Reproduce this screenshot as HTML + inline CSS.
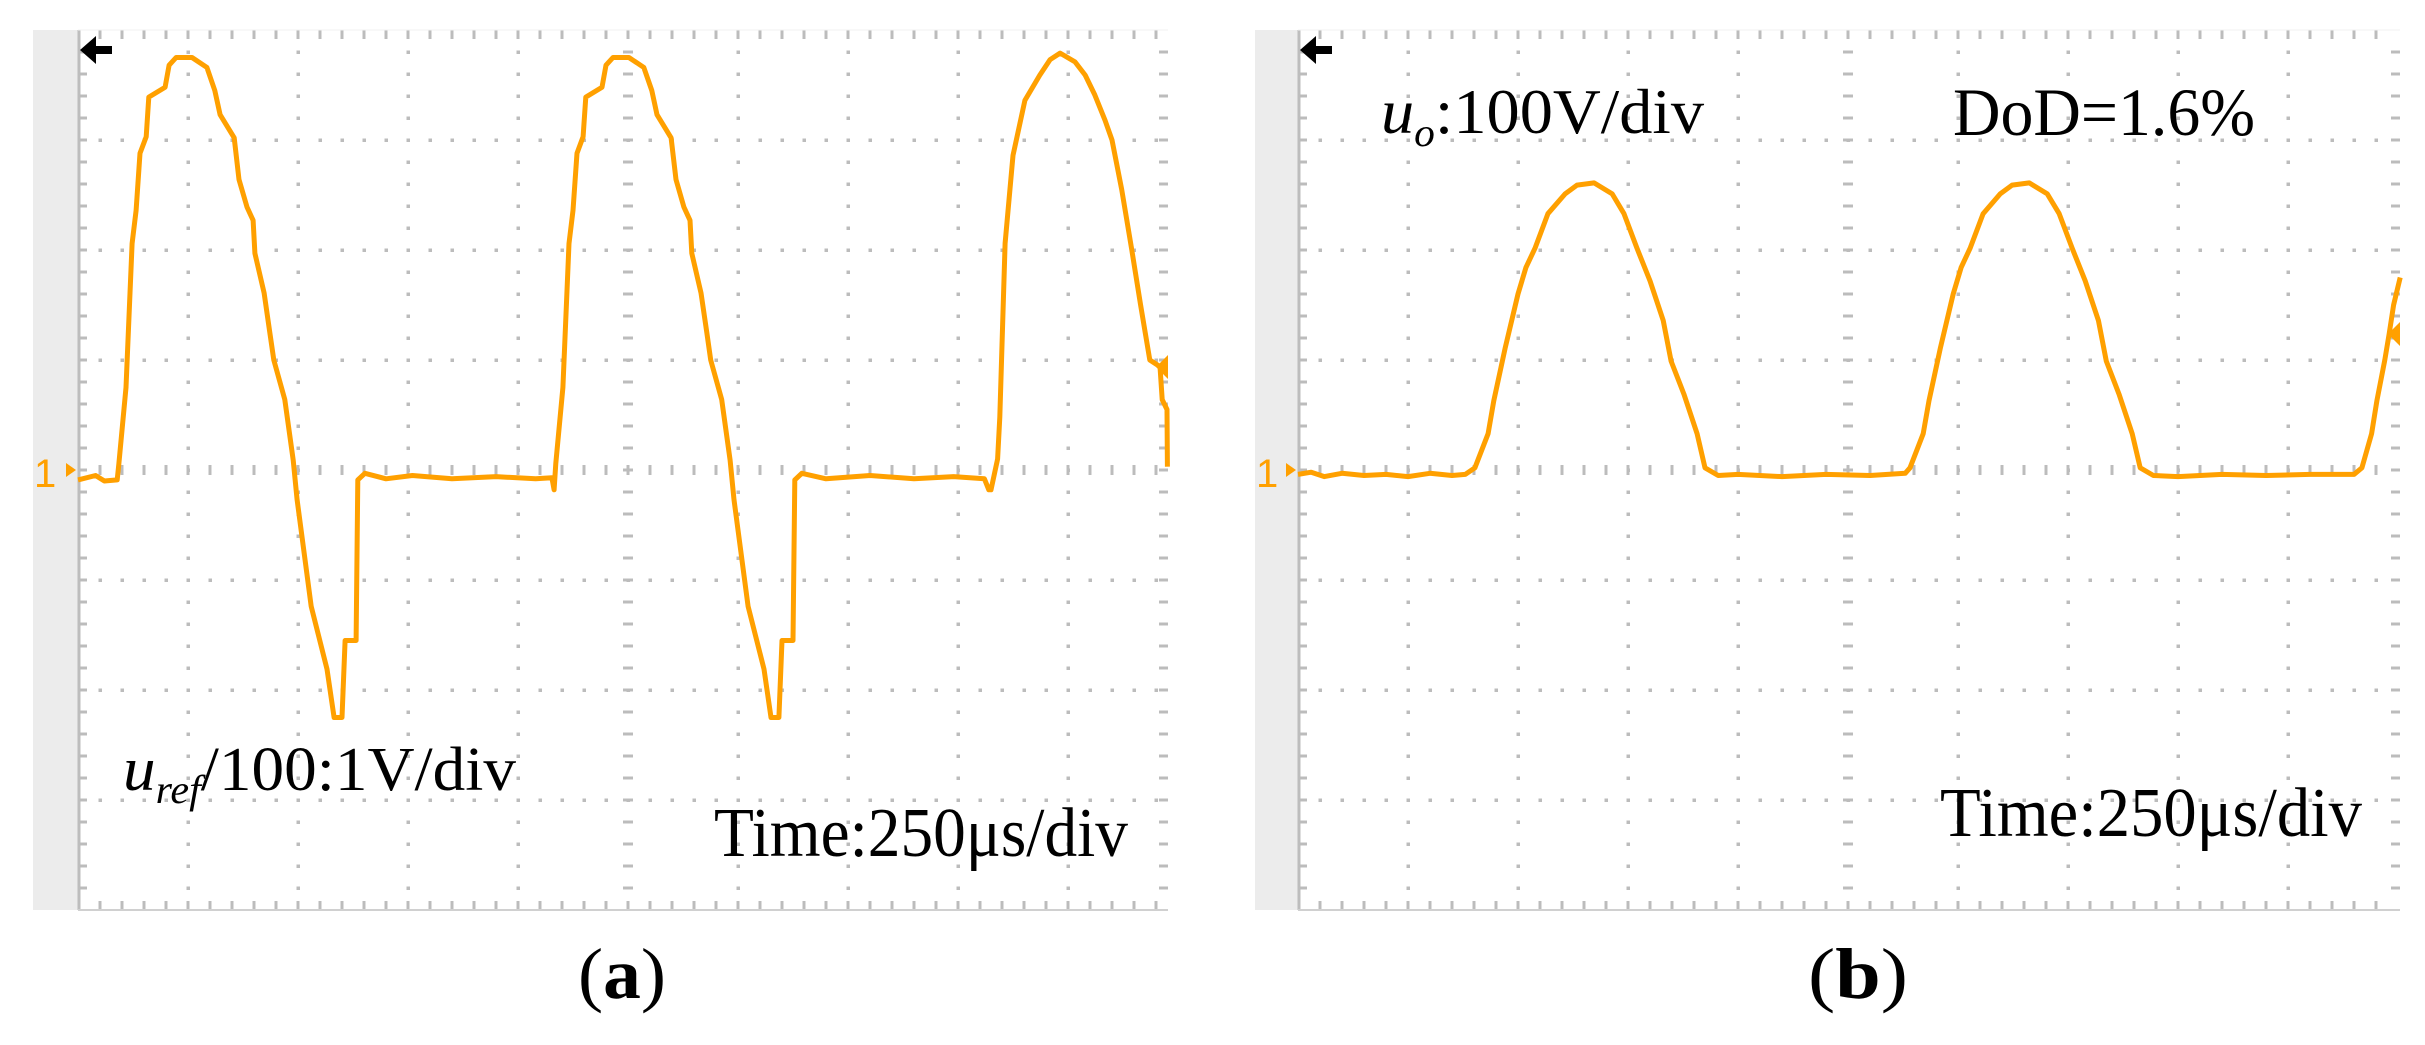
<!DOCTYPE html>
<html><head><meta charset="utf-8"><title>Oscilloscope waveforms</title>
<style>
html,body{margin:0;padding:0;background:#fff;width:2425px;height:1045px;overflow:hidden}
svg{display:block}
text{font-family:"Liberation Serif","DejaVu Serif",serif;fill:#000}
</style></head>
<body>
<svg id="fig" width="2425" height="1045" viewBox="0 0 2425 1045" xmlns="http://www.w3.org/2000/svg">
  <g id="panelA"></g>
  <g id="panelB"></g>

  <text x="123" y="790" font-size="62" textLength="393" lengthAdjust="spacingAndGlyphs"><tspan font-style="italic">u</tspan><tspan font-style="italic" font-size="40" dy="13">ref</tspan><tspan dy="-13">/100:1V/div</tspan></text>
  <text x="714" y="856" font-size="70" textLength="414" lengthAdjust="spacingAndGlyphs">Time:250μs/div</text>
  <text x="578" y="998" font-size="72" textLength="88" lengthAdjust="spacingAndGlyphs">(<tspan font-weight="bold">a</tspan>)</text>

  <text x="1381" y="133" font-size="64" textLength="323" lengthAdjust="spacingAndGlyphs"><tspan font-style="italic">u</tspan><tspan font-style="italic" font-size="40" dy="13">o</tspan><tspan dy="-13">:100V/div</tspan></text>
  <text x="1953" y="135" font-size="68" textLength="302" lengthAdjust="spacingAndGlyphs">DoD=1.6%</text>
  <text x="1940" y="836" font-size="70" textLength="422" lengthAdjust="spacingAndGlyphs">Time:250μs/div</text>
  <text x="1808" y="998" font-size="72" textLength="100" lengthAdjust="spacingAndGlyphs">(<tspan font-weight="bold">b</tspan>)</text>
</svg>
<script>
// ---- Panel (a): u_ref/100, time in microseconds, value in volts (1 V/div)
const timeA = [0,40,60,89,93,109,123,132,141,155,161,198,207,223,259,293,311,323,355,366,384,398,402,423,436,445,470,489,498,530,566,582,600,607,632,636,652,700,760,850,950,1040,1077,1082,
1086,1102,1116,1125,1134,1148,1154,1191,1200,1216,1252,1286,1304,1316,1348,1359,1377,1391,1395,1416,1429,1438,1463,1482,1491,1523,1559,1575,1593,1600,1625,1629,1645,1700,1800,1900,1990,2060,2070,
2075,2090,2095,2107,2125,2152,2186,2209,2232,2266,2289,2311,2334,2350,2372,2395,2415,2436,2459,2464,2475,2476];
const voltA = [-0.09,-0.05,-0.10,-0.09,0.06,0.75,2.06,2.36,2.88,3.03,3.39,3.48,3.68,3.75,3.75,3.66,3.45,3.23,3.02,2.64,2.39,2.27,1.97,1.61,1.25,1.0,0.64,0.09,-0.27,-1.24,-1.81,-2.25,-2.25,-1.55,-1.55,-0.09,-0.03,-0.08,-0.05,-0.08,-0.06,-0.08,-0.07,-0.18,
0.06,0.75,2.06,2.36,2.88,3.03,3.39,3.48,3.68,3.75,3.75,3.66,3.45,3.23,3.02,2.64,2.39,2.27,1.97,1.61,1.25,1.0,0.64,0.09,-0.27,-1.24,-1.81,-2.25,-2.25,-1.55,-1.55,-0.09,-0.03,-0.08,-0.05,-0.08,-0.06,-0.08,-0.18,
-0.18,0.1,0.48,2.06,2.86,3.36,3.59,3.73,3.79,3.71,3.59,3.41,3.18,3.0,2.55,2.0,1.5,1.0,0.94,0.64,0.55,0.03];

// ---- Panel (b): u_o, time in microseconds, value in volts (100 V/div)
const timeB = [0,30,60,100,150,200,250,300,350,380,402,432,445,471,500,518,539,568,607,634,673,714,741,770,800,830,848,877,907,925,955,1000,1100,1200,1300,1380,
1391,1421,1434,1460,1489,1507,1528,1557,1596,1623,1662,1703,1730,1759,1789,1819,1837,1866,1896,1914,1944,2000,2100,2200,2300,2400,
2418,2440,2452,2470,2480,2490,2505];
const voltB = [-4,-2,-6,-3,-5,-4,-6,-3,-5,-4,2,33,63,111,160,184,202,233,251,259,261,251,233,202,172,136,99,69,33,2,-5,-4,-6,-4,-5,-3,
2,33,63,111,160,184,202,233,251,259,261,251,233,202,172,136,99,69,33,2,-5,-6,-4,-5,-4,-4,
2,33,63,100,124,150,175];

const timeDivUs = 250, voltDivA = 1, voltDivB = 100;
const NS = "http://www.w3.org/2000/svg";
const DIV = 110, TOP = 30, BOT = 910, CY = 470;

function el(tag, attrs, parent){
  const e = document.createElementNS(NS, tag);
  for (const k in attrs) e.setAttribute(k, attrs[k]);
  parent.appendChild(e);
  return e;
}

function drawGrid(g, x0, xr, stripX){
  el('rect', {x: stripX, y: TOP, width: x0 - stripX, height: BOT - TOP, fill: '#ececec'}, g);
  el('rect', {x: x0, y: TOP, width: xr - x0, height: BOT - TOP, fill: '#fff'}, g);
  const grid = document.createElementNS(NS, 'g');
  
  
  g.appendChild(grid);
  const c = '#bcbcbc';
  let d = '';
  for (let i = 1; i * DIV + x0 < xr - 2; i++) {
    const x = x0 + i * DIV;
    if (i === 5) continue;
    for (let y = TOP + 22; y < BOT - 4; y += 22) d += `M${x-1.5},${y-1.5}h3.5v3.5h-3.5z`;
  }
  for (let j = 1; j < 8; j++) {
    const y = TOP + j * DIV;
    if (j === 4) continue;
    for (let x = x0 + 22; x < xr - 2; x += 22) d += `M${x-1.5},${y-1.5}h3.5v3.5h-3.5z`;
  }
  const cx = x0 + 5 * DIV;
  for (let y = TOP + 22; y < BOT - 4; y += 22) d += `M${cx-5},${y-1.5}h10v3h-10z`;
  for (let x = x0 + 22; x < xr - 2; x += 22) d += `M${x-1.5},${CY-5}h3v10h-3z`;
  for (let x = x0 + 22; x < xr - 2; x += 22) { d += `M${x-1.5},${TOP}h3v9h-3z`; d += `M${x-1.5},${BOT-9}h3v9h-3z`; }
  for (let y = TOP + 22; y < BOT - 4; y += 22) { d += `M${x0},${y-1.5}h9v3h-9z`; d += `M${xr-9},${y-1.5}h9v3h-9z`; }
  el('path', {d: d, fill: c}, grid);
  el('line', {x1: x0 + 1, y1: TOP, x2: x0 + 1, y2: BOT, stroke: '#bdbdbd', 'stroke-width': 3}, grid);
  el('line', {x1: x0, y1: BOT, x2: xr, y2: BOT, stroke: '#d0d0d0', 'stroke-width': 2}, grid);
  el('line', {x1: x0, y1: TOP, x2: xr, y2: TOP, stroke: '#f0f0f0', 'stroke-width': 1}, grid);
}

function drawTrace(g, times, volts, xf, yf, name){
  let pts = '';
  for (let i = 0; i < times.length; i++) pts += xf(times[i]).toFixed(1) + ',' + yf(volts[i]).toFixed(1) + ' ';
  const p = el('polyline', {points: pts, fill: 'none', stroke: '#FFA000', 'stroke-width': 5, 'stroke-linejoin': 'round'}, g);
  
  
}

function drawMarkers(g, x0, stripX){
  const one = el('text', {x: stripX + 1, y: CY + 17, 'font-size': 40, style: 'fill:#FFA000;font-family:Liberation Sans,sans-serif'}, g);
  one.textContent = '1';
  
  
  const arr = el('path', {d: `M${x0-12},${CY-7}l10,7l-10,7z`, fill: '#FFA000'}, g);
  
  
  const trg = el('path', {d: `M${x0+2},${50} l16,-14 v10 h16 v8 h-16 v10 z`, fill: '#000'}, g);
  
  
}

const gA = document.getElementById('panelA');
const xA = t => 78 + t / timeDivUs * DIV;
const yA = v => CY - v / voltDivA * DIV;
drawGrid(gA, 78, 1168, 33);
drawTrace(gA, timeA, voltA, xA, yA, 'u-ref-trace');
drawMarkers(gA, 78, 33);
const lvlA = el('path', {d: 'M1168,355 l-12,12 l12,12 z', fill: '#FFA000'}, gA);



const gB = document.getElementById('panelB');
const xB = t => 1298 + t / timeDivUs * DIV;
const yB = v => CY - v / voltDivB * DIV;
drawGrid(gB, 1298, 2400, 1255);
drawTrace(gB, timeB, voltB, xB, yB, 'u-o-trace');
drawMarkers(gB, 1298, 1255);
const lvlB = el('path', {d: 'M2400,322 l-12,12 l12,12 z', fill: '#FFA000'}, gB);


</script>
</body></html>
